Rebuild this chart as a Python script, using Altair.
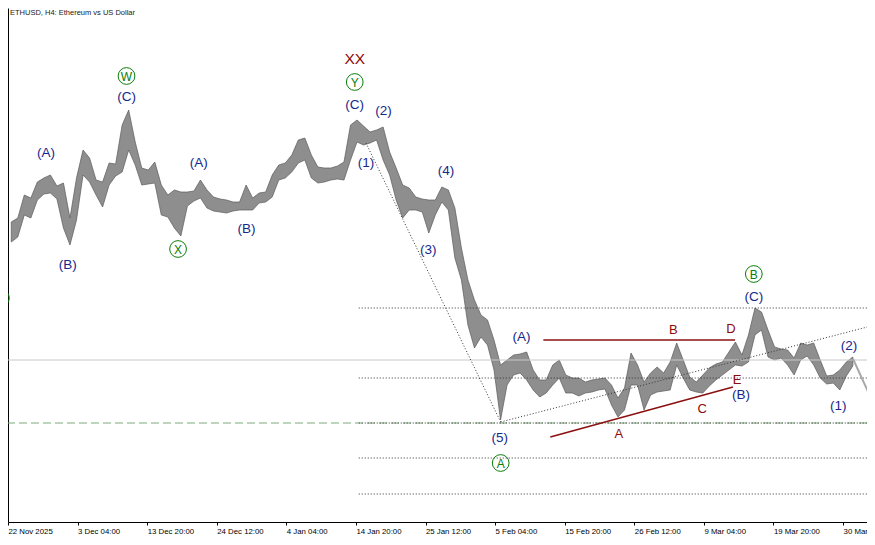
import pandas as pd
import altair as alt

# ---------------- data ----------------
# one daily high/low pair per day, first day centred on 23 Nov 2025 00:00 UTC
day_start = "2025-11-23"
day_high = [2890, 2910, 3025, 3010, 3090, 3110, 3125, 3070, 3085, 2910,
            3110, 3250, 3210, 3100, 3090, 3185, 3180, 3375, 3450, 3290,
            3160, 3150, 3190, 3075, 3025, 3050, 3040, 3040, 3045, 3100,
            3050, 3015, 3005, 3000, 2990, 2990, 3075, 3010, 3035, 3040,
            3125, 3175, 3185, 3225, 3300, 3310, 3225, 3165, 3160, 3160,
            3170, 3190, 3375, 3400, 3370, 3340, 3350, 3365, 3240, 3160,
            3075, 3060, 3015, 3005, 3000, 3000, 3065, 3050, 2960, 2760,
            2600, 2500, 2425, 2400, 2300, 2175, 2200, 2225, 2230, 2240,
            2150, 2100, 2100, 2175, 2200, 2125, 2110, 2110, 2090, 2100,
            2105, 2110, 2075, 2010, 2060, 2235, 2175, 2090, 2135, 2165,
            2135, 2190, 2285, 2200, 2115, 2090, 2125, 2160, 2180, 2190,
            2240, 2290, 2225, 2325, 2460, 2440, 2350, 2265, 2255, 2250,
            2210, 2285, 2275, 2285, 2200, 2120, 2125, 2150, 2190, 2215]
day_low = [2790, 2815, 2925, 2910, 3000, 3030, 3035, 3005, 2860, 2775,
           2900, 3125, 3090, 3025, 2965, 3075, 3120, 3140, 3250, 3175,
           3075, 3080, 3085, 2925, 2915, 2860, 2820, 2970, 2995, 3010,
           2960, 2945, 2940, 2935, 2945, 2950, 2950, 2950, 2985, 2990,
           3015, 3100, 3110, 3140, 3185, 3200, 3110, 3085, 3090, 3100,
           3105, 3100, 3200, 3290, 3275, 3285, 3300, 3200, 3125, 3000,
           2910, 2950, 2950, 2940, 2835, 2925, 2990, 2950, 2710, 2600,
           2375, 2260, 2315, 2275, 2150, 1900, 2075, 2125, 2135, 2100,
           2050, 2015, 2035, 2075, 2110, 2035, 2035, 2020, 2035, 2040,
           2050, 2055, 1975, 1915, 1950, 2075, 2075, 1950, 2025, 2040,
           2045, 2050, 2175, 2110, 2050, 2040, 2035, 2070, 2100, 2125,
           2150, 2175, 2170, 2190, 2325, 2350, 2215, 2200, 2210, 2175,
           2125, 2200, 2220, 2175, 2110, 2080, 2085, 2050, 2120, 2170]

tick_times = ["2025-11-22T12:00:00Z", "2025-12-03T04:00:00Z", "2025-12-13T20:00:00Z",
              "2025-12-24T12:00:00Z", "2026-01-04T04:00:00Z", "2026-01-14T20:00:00Z",
              "2026-01-25T12:00:00Z", "2026-02-05T04:00:00Z", "2026-02-15T20:00:00Z",
              "2026-02-26T12:00:00Z", "2026-03-09T04:00:00Z", "2026-03-19T20:00:00Z",
              "2026-03-30T12:00:00Z"]
tick_labels = ["22 Nov 2025", "3 Dec 04:00", "13 Dec 20:00", "24 Dec 12:00", "4 Jan 04:00",
               "14 Jan 20:00", "25 Jan 12:00", "5 Feb 04:00", "15 Feb 20:00", "26 Feb 12:00",
               "9 Mar 04:00", "19 Mar 20:00", "30 Mar 12:00"]

x_domain = ["2025-11-22T12:00:00Z", "2026-04-03T04:06:00Z"]
y_domain = [1390, 3960]

# wave labels (navy)
navy_text = ["(A)", "(B)", "(C)", "(A)", "(B)", "(C)", "(2)", "(1)", "(4)", "(3)",
             "(5)", "(A)", "(B)", "(C)", "(2)", "(1)", "(5)"]
navy_time = ["2025-11-28T08:00:00Z", "2025-12-01T16:00:00Z", "2025-12-10T16:00:00Z",
             "2025-12-21T18:00:00Z", "2025-12-29T01:36:00Z", "2026-01-14T15:36:00Z",
             "2026-01-19T01:30:00Z", "2026-01-16T08:54:00Z", "2026-01-28T15:36:00Z",
             "2026-01-25T21:54:00Z", "2026-02-05T20:48:00Z", "2026-02-09T05:12:00Z",
             "2026-03-14T20:18:00Z", "2026-03-16T19:42:00Z", "2026-03-31T10:18:00Z",
             "2026-03-29T18:12:00Z", "2025-11-21T09:00:00Z"]
navy_price = [3235, 2675, 3515, 3185, 2855, 3475, 3445, 3185, 3145, 2750,
              1810, 2315, 2025, 2515, 2270, 1970, 2605]

# circled labels (green)
green_text = ["W", "X", "Y", "A", "B", ""]
green_time = ["2025-12-10T16:00:00Z", "2025-12-18T13:36:00Z", "2026-01-14T15:36:00Z",
              "2026-02-06T00:30:00Z", "2026-03-16T19:42:00Z", "2025-11-21T10:00:00Z"]
green_price = [3620, 2755, 3590, 1685, 2630, 2510]

# triangle labels (dark red)
red_text = ["A", "B", "C", "D", "E"]
red_time = ["2026-02-24T03:06:00Z", "2026-03-04T12:00:00Z", "2026-03-08T21:48:00Z",
            "2026-03-13T07:42:00Z", "2026-03-14T05:42:00Z"]
red_price = [1830, 2350, 1955, 2355, 2100]

xx_text = ["XX"]
xx_time = ["2026-01-14T15:36:00Z"]
xx_price = [3705]

# retracement levels (dotted) and other horizontal lines
fib_levels = [2460, 2110, 1885, 1710, 1530]
fib_start = "2026-01-15T06:18:00Z"
line_end = "2026-04-04T09:36:00Z"
green_dash_level = [1885]
bid_level = [2200]

# straight segments: start time, start price, end time, end price
dot_t1 = ["2026-01-16T08:54:00Z", "2026-02-06T00:30:00Z"]
dot_p1 = [3285, 1890]
dot_t2 = ["2026-02-06T00:30:00Z", "2026-04-04T09:36:00Z"]
dot_p2 = [1890, 2375]

red_t1 = ["2026-02-12T13:30:00Z", "2026-02-13T15:06:00Z"]
red_p1 = [2300, 1815]
red_t2 = ["2026-03-13T22:24:00Z", "2026-03-13T15:00:00Z"]
red_p2 = [2300, 2065]

proj_t1 = ["2026-04-01T00:54:00Z"]
proj_p1 = [2205]
proj_t2 = ["2026-04-04T09:36:00Z"]
proj_p2 = [1965]

# ---------------- build tables ----------------
def ms(s):
    return int(pd.Timestamp(s).value // 10**6)

day_times = [d.strftime("%Y-%m-%dT%H:%M:%SZ")
             for d in pd.date_range(day_start, periods=len(day_high), freq="D")]
price_df = pd.DataFrame({"t": day_times, "hi": day_high, "lo": day_low})

navy_df = pd.DataFrame({"t": navy_time, "p": navy_price, "txt": navy_text})
green_df = pd.DataFrame({"t": green_time, "p": green_price, "txt": green_text})
red_df = pd.DataFrame({"t": red_time, "p": red_price, "txt": red_text})
xx_df = pd.DataFrame({"t": xx_time, "p": xx_price, "txt": xx_text})
fib_df = pd.DataFrame({"t": [fib_start] * len(fib_levels), "t2": [line_end] * len(fib_levels),
                       "p": fib_levels})
gdash_df = pd.DataFrame({"p": green_dash_level})
bid_df = pd.DataFrame({"p": bid_level})
dot_df = pd.DataFrame({"t": dot_t1, "p": dot_p1, "t2": dot_t2, "p2": dot_p2})
redl_df = pd.DataFrame({"t": red_t1, "p": red_p1, "t2": red_t2, "p2": red_p2})
proj_df = pd.DataFrame({"t": proj_t1, "p": proj_p1, "t2": proj_t2, "p2": proj_p2})
title_df = pd.DataFrame({"txt": ["ETHUSD, H4:  Ethereum vs US Dollar"]})

tick_ms = [ms(s) for s in tick_times]
labels_js = "[" + ",".join("'" + s + "'" for s in tick_labels) + "]"
label_expr = f"{labels_js}[round(datum.index * {len(tick_labels) - 1})]"

xscale = alt.Scale(type="utc", domain=[ms(s) for s in x_domain])
yscale = alt.Scale(domain=y_domain, nice=False, zero=False)

FONT = "Liberation Sans"
NAVY = "#16288c"
GREEN = "#0a7d0a"
DRED = "#8b0a0a"


def X(f="t"):
    return alt.X(f"{f}:T", scale=xscale, title=None)


def Y(f="p"):
    return alt.Y(f"{f}:Q", scale=yscale, title=None)


price_area = alt.Chart(price_df).mark_area(
    color="#8e8e8e", opacity=1, stroke="#5a5a5a", strokeWidth=0.7
).encode(
    x=alt.X("t:T", scale=xscale, title=None,
            axis=alt.Axis(values=tick_ms, labelExpr=label_expr, labelAlign="left",
                          labelOverlap=False, labelBaseline="top")),
    y=alt.Y("lo:Q", scale=yscale, title=None),
    y2="hi:Q",
)

bid = alt.Chart(bid_df).mark_rule(color="#c8c8c8", strokeWidth=1).encode(y=Y())
gdash = alt.Chart(gdash_df).mark_rule(color="#7aa87a", strokeWidth=1,
                                      strokeDash=[8, 4]).encode(y=Y())
fib = alt.Chart(fib_df).mark_rule(color="#333333", strokeWidth=1, strokeDash=[1, 2],
                                  clip=True).encode(x=X(), x2="t2:T", y=Y())
dots = alt.Chart(dot_df).mark_rule(color="#333333", strokeWidth=1, strokeDash=[1, 2],
                                   clip=True).encode(x=X(), x2="t2:T", y=Y(), y2="p2:Q")
redl = alt.Chart(redl_df).mark_rule(color="#8b1010", strokeWidth=1.6).encode(
    x=X(), x2="t2:T", y=Y(), y2="p2:Q")
proj = alt.Chart(proj_df).mark_rule(color="#a8a8a8", strokeWidth=2, clip=True).encode(
    x=X(), x2="t2:T", y=Y(), y2="p2:Q")

navy = alt.Chart(navy_df).mark_text(font=FONT, fontSize=13.5, color=NAVY,
                                    align="center", baseline="middle", clip=True).encode(
    x=X(), y=Y(), text="txt:N")
circles = alt.Chart(green_df).mark_point(shape="circle", filled=False, color=GREEN,
                                         size=280, strokeWidth=1, opacity=1,
                                         clip=True).encode(x=X(), y=Y())
circ_txt = alt.Chart(green_df).mark_text(font=FONT, fontSize=12, color=GREEN,
                                         align="center", baseline="middle", dy=0.5).encode(
    x=X(), y=Y(), text="txt:N")
redt = alt.Chart(red_df).mark_text(font=FONT, fontSize=13, color=DRED,
                                   align="center", baseline="middle").encode(
    x=X(), y=Y(), text="txt:N")
xx = alt.Chart(xx_df).mark_text(font=FONT, fontSize=15.5, color=DRED,
                                align="center", baseline="middle").encode(
    x=X(), y=Y(), text="txt:N")
title = alt.Chart(title_df).mark_text(font=FONT, fontSize=7.5, color="#202020",
                                      align="left", baseline="middle").encode(
    x=alt.value(2), y=alt.value(5), text="txt:N")

chart = alt.layer(
    price_area, bid, gdash, fib, dots, redl, proj,
    navy, circles, circ_txt, redt, xx, title
).properties(
    width=859, height=514,
    autosize=alt.AutoSizeParams(type="none"),
    padding={"left": 0, "top": 0, "right": 0, "bottom": 15},
    background="white",
).configure_view(stroke=None).configure_axis(
    grid=False, domainColor="black", tickColor="black", labelColor="black",
    labelFont=FONT, labelFontSize=7.8, tickSize=3, labelPadding=2, domainWidth=1,
).configure_axisY(labels=False, ticks=False)

chart.save("out.html", embed_options={"renderer": "svg", "actions": False})
